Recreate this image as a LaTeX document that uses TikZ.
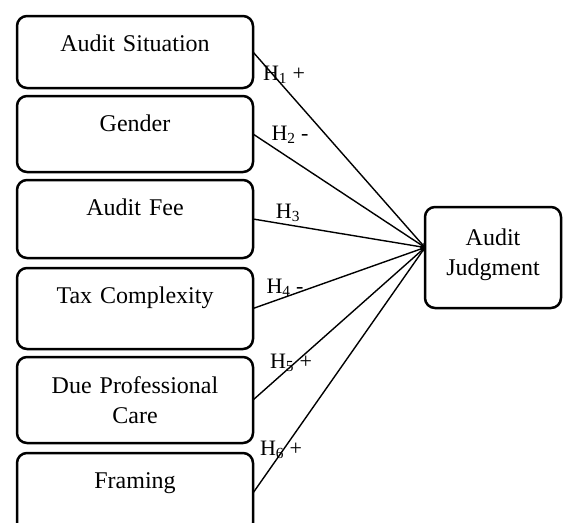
\documentclass[tikz,border=0pt]{standalone}
\usepackage{fontspec}
\setmainfont{Liberation Serif}
\usetikzlibrary{positioning}
\tikzset{
  factor/.style={draw, line width=2.5pt, rounded corners=10pt, align=center, text width=236pt, inner sep=0pt, outer sep=0pt, text height=35pt, font=\fontsize{24}{30}\selectfont},
  hyp/.style={inner sep=0pt, font=\fontsize{22}{26}\selectfont},
  link/.style={->, line width=1.4pt},
}

\begin{document}
\begin{tikzpicture}[x=1pt, y=-1pt, node distance=8pt]
    \useasboundingbox (0,0) rectangle (564,522);

    % independent variables
    \node[factor, text depth=37pt] (situation) at (135,52) {Audit Situation};
    \node[factor, text depth=41pt, below=of situation] (gender) {Gender};
    \node[factor, text depth=43pt, below=of gender] (fee) {Audit Fee};
    \node[factor, text depth=46pt, below=10pt of fee] (tax) {Tax Complexity};
    \node[factor, text height=36pt, text depth=50pt, below=of tax] (care) {Due Professional\\Care};
    \node[factor, text depth=45pt, below=10pt of care] (framing) {Framing};

    % dependent variable
    \node[factor, text width=136pt, text height=38pt, text depth=63pt] (judgment) at (493,257.5) {Audit\\Judgment};
    \coordinate (meet) at ([yshift=10pt]judgment.west);

    \foreach \src in {situation,gender,fee,tax,care,framing}
        \draw[link] (\src.east) -- (meet);

    % hypotheses
    \node[hyp] (h1) at (284,75) {H\textsubscript{1} +};
    \node[hyp] (h2) at (290,135) {H\textsubscript{2} -};
    \node[hyp] (h3) at (288,213) {H\textsubscript{3}};
    \node[hyp] (h4) at (285,288) {H\textsubscript{4} -};
    \node[hyp] (h5) at (291,363) {H\textsubscript{5} +};
    \node[hyp] (h6) at (281,450) {H\textsubscript{6} +};
\end{tikzpicture}
\end{document}
